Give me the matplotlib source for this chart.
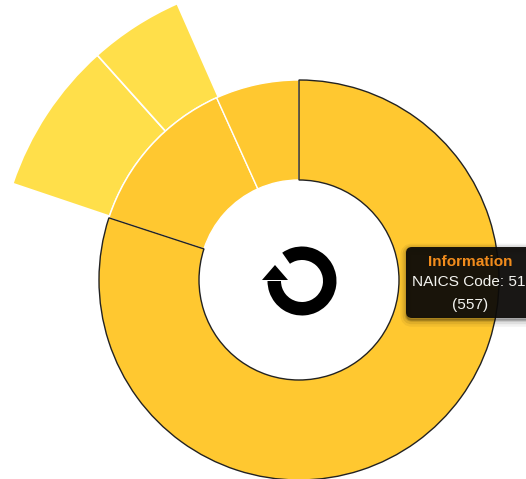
import matplotlib
matplotlib.use("Agg")
import matplotlib.pyplot as plt
from matplotlib.patches import Wedge, Polygon, FancyBboxPatch

plt.rcParams['font.family'] = ['Liberation Sans', 'DejaVu Sans']

# values, inner ring clockwise from 12 o'clock
inner_values = [557, 92, 47]
inner_colors = ['#FFC830', '#FFC830', '#FFC830']
inner_edges = ['#222222', 'white', 'white']

# outer ring only shows the children of the 92 segment
outer_values = [57, 35]
outer_color = '#FFDF4A'

tip_title = 'Information'
tip_lines = ['NAICS Code: 51', '(557)']

W, H = 526, 479
fig = plt.figure(figsize=(W / 100, H / 100), dpi=100)
ax = fig.add_axes([0, 0, 1, 1])

cx, cy = 299, H - 280
r_in, r_mid, r_out = 100, 200, 302


def ring(values, colors, edges, radius, width, lw, order):
    wedges, _ = ax.pie(values, colors=colors, radius=radius, center=(cx, cy),
                       startangle=90, counterclock=False,
                       wedgeprops=dict(width=width, linewidth=lw))
    for w, e, o in zip(wedges, edges, order):
        w.set_edgecolor(e)
        w.set_zorder(o)
    return wedges


# outer ring: first slice is the invisible part up to the start of the children
outer_all = [558] + outer_values + [46]
ring(outer_all, ['none', outer_color, outer_color, 'none'],
     ['none', 'white', 'white', 'none'], r_out, r_out - r_mid, 1.2, [1, 2, 2, 1])
ring(inner_values, inner_colors, inner_edges, r_mid, r_mid - r_in, 1.0, [5, 3, 3])

# reset icon in the middle
ix, iy = 302, H - 281
ax.add_patch(Wedge((ix, iy), 34.5, 180, 485, width=13.5, facecolor='black',
                   edgecolor='none', zorder=6))
ax.add_patch(Polygon([(262, H - 280), (288, H - 280), (275, H - 265)],
                     closed=True, facecolor='black', edgecolor='none', zorder=6))

# tooltip with soft shadow, runs off the right edge
for grow, a in [(4, 0.05), (2.5, 0.08), (1, 0.12)]:
    ax.add_patch(FancyBboxPatch((406, H - 320 - grow * 0.3), 160, 72, boxstyle='round,pad=0,rounding_size=6',
                                facecolor='black', edgecolor='black', linewidth=grow * 2, alpha=a, zorder=7))
ax.add_patch(FancyBboxPatch((406, H - 318), 160, 71, boxstyle='round,pad=0,rounding_size=6',
                            facecolor='#0c0a08', edgecolor='none', alpha=0.93, zorder=8))
ax.text(470, H - 262, tip_title, color='#F28C1C', fontsize=11.1, fontweight='bold',
        ha='center', va='center', zorder=9)
ax.text(468.5, H - 282, tip_lines[0], color='#F4F4F0', fontsize=11.1,
        ha='center', va='center', zorder=9)
ax.text(470, H - 305, tip_lines[1], color='#F4F4F0', fontsize=11.1,
        ha='center', va='center', zorder=9)

ax.set_xlim(0, W)
ax.set_ylim(0, H)
ax.set_aspect('auto')
ax.axis('off')

fig.savefig('out.png', dpi=100)
